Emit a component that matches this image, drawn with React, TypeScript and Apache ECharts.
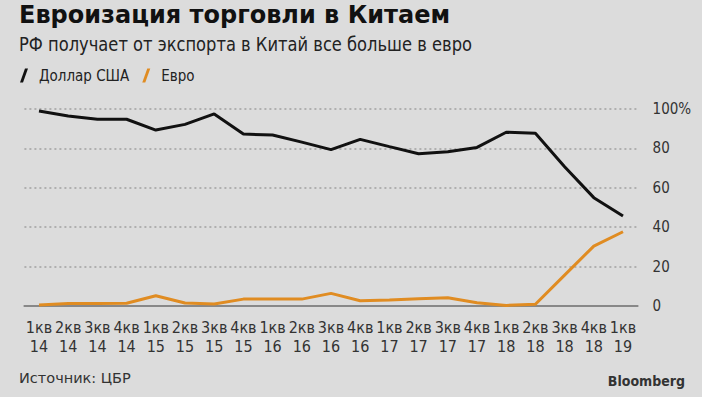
import React, { useEffect, useRef } from "react";
import * as echarts from "echarts";

const categories = [
  "1кв\n14", "2кв\n14", "3кв\n14", "4кв\n14",
  "1кв\n15", "2кв\n15", "3кв\n15", "4кв\n15",
  "1кв\n16", "2кв\n16", "3кв\n16", "4кв\n16",
  "1кв\n17", "2кв\n17", "3кв\n17", "4кв\n17",
  "1кв\n18", "2кв\n18", "3кв\n18", "4кв\n18",
  "1кв\n19",
];
const usd = [99, 96.4, 94.8, 94.8, 89.3, 92.2, 97.5, 87.3, 86.8, 83.2, 79.4, 84.6, 80.9, 77.3, 78.3, 80.5, 88.2, 87.7, 70.7, 55, 45.7];
const eur = [0.5, 1.3, 1.3, 1.4, 5.2, 1.5, 1, 3.5, 3.5, 3.5, 6.4, 2.7, 3.0, 3.7, 4.2, 1.7, 0.3, 0.9, 15.7, 30.4, 37.7];
const yTicks = [0, 20, 40, 60, 80, 100];

const COND = "'DejaVu Sans Condensed', 'DejaVu Sans', sans-serif";
const SANS = "'DejaVu Sans', sans-serif";

export default function App() {
  const ref = useRef<HTMLDivElement>(null);
  useEffect(() => {
    document.body.style.margin = "0";
    const chart = echarts.init(ref.current!, null, { renderer: "svg" });
    chart.setOption({
      animation: false,
      backgroundColor: "#dcdcdc",
      graphic: [
        {
          type: "text",
          x: 19,
          y: 15,
          style: {
            text: "Евроизация торговли в Китаем",
            fontFamily: SANS,
            fontWeight: "bold",
            fontSize: 24,
            fill: "#111",
            verticalAlign: "middle",
          },
        },
        {
          type: "text",
          x: 19,
          y: 44,
          scaleX: 0.93,
          style: {
            text: "РФ получает от экспорта в Китай все больше в евро",
            fontFamily: COND,
            fontSize: 19.5,
            fill: "#222",
            verticalAlign: "middle",
          },
        },
        {
          type: "text",
          x: 19,
          y: 378,
          style: {
            text: "Источник: ЦБР",
            fontFamily: SANS,
            fontSize: 14.5,
            fill: "#333",
            verticalAlign: "middle",
          },
        },
        {
          type: "text",
          right: 17,
          y: 374,
          style: {
            text: "Bloomberg",
            fontFamily: COND,
            fontWeight: "bold",
            fontSize: 14,
            fill: "#333",
          },
        },
      ],
      legend: {
        left: 15,
        top: 63,
        itemWidth: 8,
        itemHeight: 14,
        itemGap: 13,
        icon: "path://M0,14 L3,14 L8,0 L5,0 Z",
        textStyle: { fontFamily: COND, fontSize: 15, color: "#222", padding: [0, 0, 0, 6] },
        data: ["Доллар США", "Евро"],
      },
      grid: { left: 24.4, right: 702 - 637.6, top: 109, bottom: 91 },
      xAxis: {
        type: "category",
        data: categories,
        boundaryGap: true,
        axisLine: { lineStyle: { color: "#888", width: 2 } },
        axisTick: { alignWithLabel: true, length: 6, lineStyle: { color: "#555", width: 1.5 } },
        axisLabel: {
          interval: 0,
          margin: 12,
          fontFamily: COND,
          fontSize: 16,
          color: "#333",
          lineHeight: 19,
        },
      },
      yAxis: {
        type: "value",
        position: "right",
        min: 0,
        max: 100,
        interval: 20,
        axisLine: { show: false },
        axisTick: { show: false },
        splitLine: { lineStyle: { color: "#a0a0a0", type: [2, 3], width: 1.5 } },
        axisLabel: {
          margin: 15,
          fontFamily: COND,
          fontSize: 15,
          color: "#333",
          formatter: (v: number) => (v === yTicks[yTicks.length - 1] ? v + "%" : String(v)),
        },
      },
      series: [
        {
          name: "Доллар США",
          type: "line",
          data: usd,
          symbol: "none",
          itemStyle: { color: "#111" },
          lineStyle: { color: "#111", width: 3 },
        },
        {
          name: "Евро",
          type: "line",
          data: eur,
          symbol: "none",
          itemStyle: { color: "#e08c22" },
          lineStyle: { color: "#e08c22", width: 3 },
        },
      ],
    });
    return () => chart.dispose();
  }, []);
  return <div ref={ref} style={{ width: 702, height: 397 }} />;
}
